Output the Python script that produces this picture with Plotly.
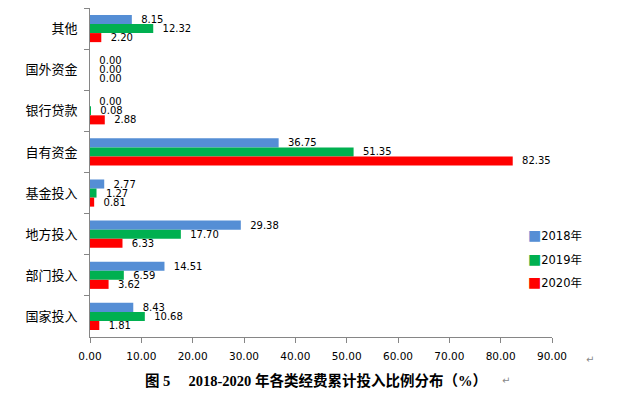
import plotly.graph_objects as go

categories = ["其他", "国外资金", "银行贷款", "自有资金", "基金投入", "地方投入", "部门投入", "国家投入"]
v2018 = [8.15, 0.00, 0.00, 36.75, 2.77, 29.38, 14.51, 8.43]
v2019 = [12.32, 0.00, 0.08, 51.35, 1.27, 17.70, 6.59, 10.68]
v2020 = [2.20, 0.00, 2.88, 82.35, 0.81, 6.33, 3.62, 1.81]
series_names = ["2018年", "2019年", "2020年"]
colors = ["#558ED5", "#00B050", "#FF0000"]
x_ticks = [0, 10, 20, 30, 40, 50, 60, 70, 80, 90]

fig = go.Figure()
for name, vals, col in zip(series_names, [v2018, v2019, v2020], colors):
    fig.add_trace(go.Bar(
        name=name, y=categories, x=vals, orientation="h",
        marker=dict(color=col, line=dict(width=0)),
        text=["  %.2f" % v for v in vals], textposition="outside",
        constraintext="none",
        textfont=dict(family="DejaVu Sans", size=10, color="#000000"),
        cliponaxis=False, showlegend=False,
    ))

axis_col = "#868686"
# page body has an 8px default margin, so the figure is sized/offset to compensate
fig.update_layout(
    width=623, height=391,
    margin=dict(l=82, r=79, t=0, b=62, autoexpand=False),
    paper_bgcolor="white", plot_bgcolor="white",
    barmode="group", bargap=0.34, bargroupgap=0,
    xaxis=dict(range=[0, 90], tickvals=x_ticks, tickformat=".2f",
               showgrid=False, zeroline=False, showline=True, linecolor=axis_col, linewidth=1,
               ticks="outside", ticklen=5, tickcolor=axis_col, ticklabelstandoff=4,
               tickfont=dict(family="DejaVu Sans", size=10.5, color="#000")),
    yaxis=dict(categoryorder="array", categoryarray=categories, autorange="reversed",
               showgrid=False, zeroline=False, showline=True, linecolor=axis_col, linewidth=1,
               ticks="outside", ticklen=5, tickcolor=axis_col, tickson="boundaries",
               ticklabelstandoff=9,
               tickfont=dict(family="Noto Sans CJK SC", size=13, color="#000")),
    font=dict(family="Noto Sans CJK SC"),
)

def px(xw):
    return (xw - 90) / 462

def py(yw):
    return (337 - yw) / 329

# legend drawn as text entries
for i, (name, col) in enumerate(zip(series_names, colors)):
    fig.add_annotation(
        text='<span style="color:%s;font-size:14px">■</span>%s' % (col, name),
        xref="paper", yref="paper", x=px(526), y=py(235 + 23.5 * i),
        xanchor="left", yanchor="middle", showarrow=False,
        font=dict(family="DejaVu Sans, Noto Sans CJK SC", size=11.5, color="#000"),
    )

fig.add_annotation(
    text="<b>图 5\u2003 2018-2020 年各类经费累计投入比例分布（%）</b>",
    xref="paper", yref="paper", x=px(143), y=py(380),
    xanchor="left", yanchor="middle", showarrow=False,
    font=dict(family="Liberation Serif, Noto Sans CJK SC", size=14.5, color="#000"),
)
fig.add_annotation(text="↵", xref="paper", yref="paper", x=px(500), y=py(381),
                   xanchor="left", yanchor="middle", showarrow=False,
                   font=dict(family="DejaVu Sans", size=10, color="#888"))
fig.add_annotation(text="↵", xref="paper", yref="paper", x=px(590), y=py(359),
                   xanchor="center", yanchor="middle", showarrow=False,
                   font=dict(family="DejaVu Sans", size=10, color="#888"))

fig.write_html("out.html")
